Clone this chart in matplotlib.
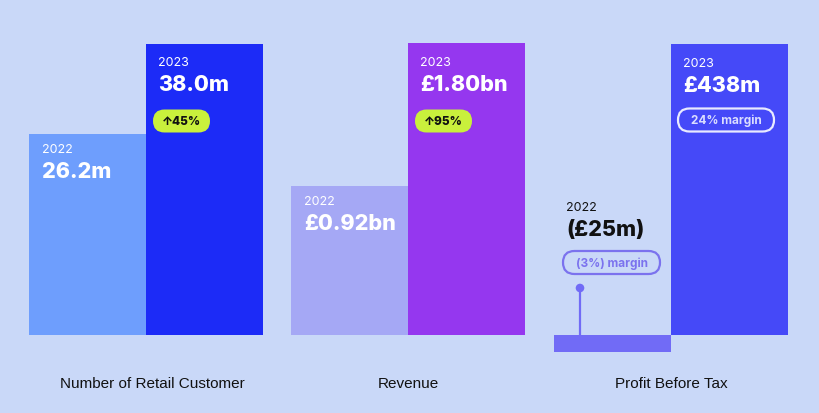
import matplotlib
matplotlib.use("Agg")
import matplotlib.pyplot as plt
from matplotlib.patches import FancyBboxPatch, Circle
from matplotlib.transforms import IdentityTransform
from matplotlib.lines import Line2D

# ---- data ----
categories = ["Number of Retail Customer", "Revenue", "Profit Before Tax"]
years = ["2022", "2023"]
values_2022 = [26.2, 0.92, -25]
values_2023 = [38.0, 1.80, 438]
labels_2022 = ["26.2m", "£0.92bn", "(£25m)"]
labels_2023 = ["38.0m", "£1.80bn", "£438m"]
growth_badges = ["↑45%", "↑95%", None]
margin_2022 = [None, None, "(3%) margin"]
margin_2023 = [None, None, "24% margin"]
colors_2022 = ["#6E9EFD", "#A5A8F5", "#716BF6"]
colors_2023 = ["#1C2BF7", "#9537EF", "#4549F8"]

BG = "#C9D8F8"
LIME = "#C9F03C"
W, H = 819, 414
DPI = 100

plt.rcParams['font.family'] = ['Inter', 'DejaVu Sans']

fig = plt.figure(figsize=(W / DPI, H / DPI), dpi=DPI, facecolor=BG)

lefts_px = [29, 291, 554]
width_px = 234
base_px = 336   # baseline, from top
top_px = 44.5   # top of tallest bar, from top

ident = IdentityTransform()


def pill(ax, x, y, w, h, fc, ec, lw=0):
    # x,y = bottom-left in display pixels
    p = FancyBboxPatch((x, y), w, h,
                       boxstyle=f"round,pad=0,rounding_size={h/2}",
                       transform=ident, facecolor=fc, edgecolor=ec,
                       linewidth=lw, zorder=5, clip_on=False)
    ax.add_artist(p)


for i, cat in enumerate(categories):
    ax = fig.add_axes([lefts_px[i] / W, 1 - base_px / H,
                       width_px / W, (base_px - top_px) / H])
    ax.set_facecolor("none")
    ymax = max(values_2023[i], values_2022[i])
    ax.set_xlim(-0.5, 1.5)
    ax.set_ylim(0, ymax)
    ax.axis("off")
    ax.bar([0, 1], [values_2022[i], values_2023[i]], width=1.0,
           color=[colors_2022[i], colors_2023[i]], clip_on=False, zorder=2)

    # category label
    fig.text((lefts_px[i] + width_px / 2 + (6 if i == 0 else 0)) / W,
             1 - 384 / H, cat, ha="center", va="center",
             fontsize=11, family=['Liberation Sans', 'DejaVu Sans'],
             color="#111111")

    # 2023 annotations (inside bar near top)
    x0, ytop = ax.transData.transform((0.5, values_2023[i]))
    ax.annotate(years[1], (0.5, values_2023[i]), xytext=(12, -19),
                textcoords="offset pixels", ha="left", va="center",
                fontsize=9, color="white", zorder=6)
    ax.annotate(labels_2023[i], (0.5, values_2023[i]), xytext=(12, -41),
                textcoords="offset pixels", ha="left", va="center",
                fontsize=15.5, fontweight="heavy", color="white", zorder=6)
    if growth_badges[i]:
        pill(ax, x0 + 7, ytop - 89, 57, 23, LIME, "none")
        ax.annotate(growth_badges[i], (0.5, values_2023[i]),
                    xytext=(7 + 28.5, -77.5), textcoords="offset pixels",
                    ha="center", va="center", fontsize=8.5,
                    fontweight="heavy", color="#111111", zorder=6)
    if margin_2023[i]:
        pill(ax, x0 + 7, ytop - 88, 96, 23, "none", "#E8EAFF", lw=1.6)
        ax.annotate(margin_2023[i], (0.5, values_2023[i]),
                    xytext=(7 + 48, -76.5), textcoords="offset pixels",
                    ha="center", va="center", fontsize=8.5,
                    fontweight="bold", color="#DADDFF", zorder=6)

    # 2022 annotations
    if values_2022[i] > 0:
        ax.annotate(years[0], (-0.5, values_2022[i]), xytext=(13, -15),
                    textcoords="offset pixels", ha="left", va="center",
                    fontsize=9, color="white", zorder=6)
        ax.annotate(labels_2022[i], (-0.5, values_2022[i]), xytext=(13, -37),
                    textcoords="offset pixels", ha="left", va="center",
                    fontsize=15.5, fontweight="heavy", color="white", zorder=6)
    else:
        # negative value: lollipop + labels above the baseline
        bx, by = ax.transData.transform((-0.5, 0))
        line_top = by + 47
        ax.add_artist(Line2D([bx + 26, bx + 26], [by, line_top],
                             transform=ident, color=colors_2022[i], lw=1.6,
                             zorder=4, clip_on=False))
        ax.add_artist(Circle((bx + 26, line_top), 4.3, transform=ident,
                             facecolor=colors_2022[i], edgecolor="none",
                             zorder=4, clip_on=False))
        pill(ax, bx + 9, by + 61, 97, 23, "none", "#7B72EE", lw=1.6)
        ax.annotate(margin_2022[i], (-0.5, 0), xytext=(9 + 48.5, 72.5),
                    textcoords="offset pixels", ha="center", va="center",
                    fontsize=8.5, fontweight="bold", color="#7B72EE",
                    zorder=6)
        ax.annotate(labels_2022[i], (-0.5, 0), xytext=(12, 106),
                    textcoords="offset pixels", ha="left", va="center",
                    fontsize=15.5, fontweight="heavy", color="#111111",
                    zorder=6)
        ax.annotate(years[0], (-0.5, 0), xytext=(12, 128),
                    textcoords="offset pixels", ha="left", va="center",
                    fontsize=9, color="#111111", zorder=6)

fig.savefig("out.png", dpi=DPI, facecolor=BG)
